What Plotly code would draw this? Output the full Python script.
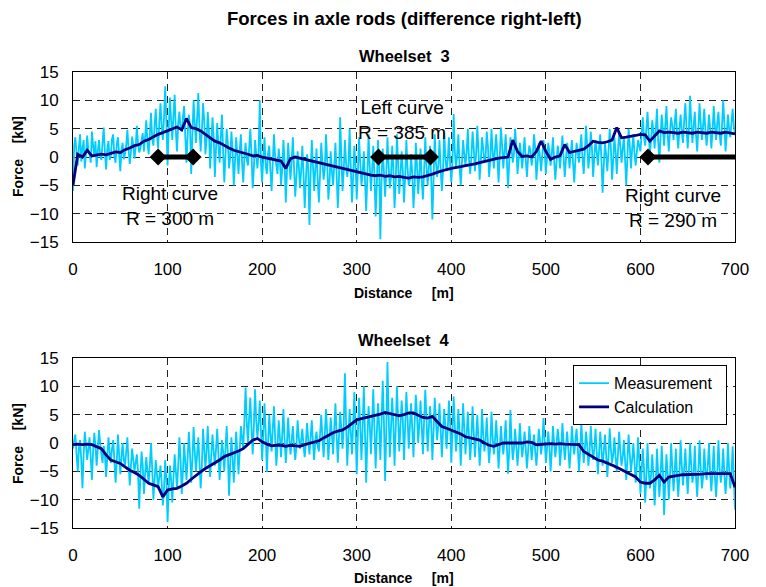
import numpy as np
import plotly.graph_objects as go

# ---------------- data ----------------
# measurement: samples every 1.25 m from 0 to 700 m; calculation: every 5 m
meas_ws3 = [
    -6.0, 2.0, 3.5, 0.5, -1.5, 1.8, 4.0, -0.8, 1.5, 3.0, -2.0, 0.6, 3.8, 1.2, 0.5, -1.0, 4.5, 2.0, 0.0, 2.8,
    -1.8, 1.0, 3.0, 0.2, -0.5, 2.5, 5.2, 0.8, -2.2, 1.5, 2.8, -0.5, 0.2, 3.2, 4.0, 0.0, -1.0, 2.2, 3.5, 0.6,
    -2.5, 1.2, 2.5, -0.4, 0.5, 2.0, 4.8, 1.5, -1.2, 0.8, 3.6, 2.0, -0.3, 1.6, 5.5, 2.5, 0.8, 1.5, 3.0, 4.2,
    1.0, 3.5, 6.5, 2.5, 0.5, 4.0, 7.8, 3.2, 2.0, 5.5, 8.5, 4.0, 1.5, 6.0, 9.5, 5.5, 3.0, 7.0, 12.5, 6.0,
    -1.5, 5.0, 10.5, 6.5, 3.0, 7.5, 11.0, 4.5, 1.0, 6.0, 8.0, 5.0, 4.5, 7.0, 9.0, 3.5, -1.0, 4.0, 7.5, 5.5,
    -3.0, 4.0, 10.0, 6.0, 2.5, 7.0, 11.3, 5.0, 1.0, 4.5, 9.5, 6.5, 0.5, 3.0, 8.0, 4.5, -2.0, 2.5, 7.0, 3.5,
    -3.5, 1.5, 6.0, 2.0, -1.0, 3.5, 7.5, 1.0, -4.5, 0.5, 5.0, 2.5, -2.0, 0.0, 4.5, 1.0, -5.0, -1.0, 3.5, 0.5,
    -3.0, 1.0, 4.0, -1.0, -4.5, 0.0, 2.5, -0.5, -1.5, 1.5, 5.0, 0.5, -5.5, -2.0, 3.0, 0.5, -2.0, 1.0, 10.0, -1.0,
    -4.5, 0.0, 3.5, -1.5, -3.0, 0.5, 2.0, -2.5, -6.0, -1.0, 4.0, 0.0, -1.5, -3.0, 1.5, -0.5, -5.0, -2.0, 3.0, -1.0,
    -8.0, -2.5, 2.5, -1.0, -4.0, -0.5, 3.5, -2.0, -7.0, -3.5, 1.0, -1.5, -5.5, -2.5, 2.0, -3.0, -9.0, -4.0, 0.5, -2.0,
    -12.0, -3.0, 3.0, -1.5, -6.0, -2.0, 1.5, -4.0, -8.0, -3.0, 2.5, -1.0, -4.0, -2.0, 4.0, -0.5, -7.5, -4.5, 1.0, -2.5,
    -5.0, -1.5, 2.5, -3.0, -9.0, -4.0, 7.0, 0.0, -6.0, -2.5, 3.0, -1.0, -3.5, -1.5, 5.0, -2.0, -8.0, -3.5, 2.0, -1.5,
    -7.5, -2.5, 3.5, -1.0, -5.0, -3.0, 1.0, -4.0, -9.5, -3.5, 4.0, -1.5, -6.0, -2.5, 2.0, -3.5, -10.5, -5.0, 3.0, -2.0,
    -14.5, -4.0, 1.5, -2.5, -7.0, -3.0, 3.5, -1.5, -5.5, -3.5, 2.0, -2.0, -9.0, -4.5, 4.0, -1.0, -6.5, -3.0, 1.0, -2.5,
    -8.0, -3.5, 3.0, -2.0, -5.0, -4.0, 0.5, -3.0, -9.0, -5.0, 2.5, -1.5, -6.5, -3.0, 1.5, -4.0, -7.5, -2.5, 3.5, -1.5,
    -5.0, -2.0, 2.0, -3.5, -11.0, -4.0, 4.0, -1.0, -3.5, -1.5, 3.0, -2.0, -6.0, -2.5, 4.5, 0.0, -2.5, -0.5, 3.5, -1.0,
    -4.5, -1.0, 7.6, 1.0, -2.0, 0.5, 4.0, -1.5, -5.0, -1.0, 3.0, 0.5, -1.5, 1.0, 5.0, -0.5, -3.0, 0.0, 4.5, 1.5,
    -2.5, 0.5, 5.5, 1.0, -4.0, -0.5, 3.5, 1.5, -1.0, 0.0, 4.5, 2.0, -3.5, -0.5, 5.0, 1.0, -2.0, 1.5, 4.0, 0.0,
    -4.5, 0.0, 5.2, 2.0, -2.0, 1.0, 4.0, -0.5, -5.5, -1.0, 3.5, 1.5, -1.0, 0.5, 5.0, 2.0, -3.0, -0.5, 2.5, 0.5,
    -2.0, 1.0, 3.5, -0.5, -3.5, 0.0, 2.0, 1.0, -1.5, 0.5, 4.0, 1.5, -4.0, -1.0, 2.5, 0.0, -2.5, 0.5, 3.0, 1.0,
    -3.0, 0.0, 2.5, 1.0, -1.5, 0.5, 3.5, -0.5, -4.0, -1.0, 2.0, 0.5, -2.0, 1.0, 3.8, 0.0, -3.5, -0.5, 2.5, 1.0,
    -2.0, 0.5, 3.0, -1.0, -4.5, -0.5, 2.5, 1.0, -1.0, 1.5, 4.0, 0.0, -3.0, 1.0, 5.5, 2.0, -2.0, 0.5, 4.5, 1.5,
    -3.5, 0.0, 3.0, 1.0, -1.5, 1.5, 4.0, -0.5, -6.3, -1.5, 2.5, 0.5, -2.5, 1.0, 5.0, 1.5, -4.0, -0.5, 3.5, 1.0,
    -3.0, 1.0, 4.5, 2.0, -1.0, 1.5, 3.5, -0.5, -5.0, 0.0, 5.0, 2.0, -2.0, 1.5, 4.0, 0.5, -1.5, 1.0, 3.0, 2.0,
    1.0, 4.0, 7.0, 3.5, 2.0, 5.0, 8.0, 4.0, 0.5, 3.0, 6.5, 4.5, 1.5, 5.0, 8.5, 3.0, -1.0, 3.5, 7.5, 5.0,
    2.0, 5.5, 9.0, 4.0, 1.0, 4.5, 7.0, 5.5, 3.0, 6.0, 8.5, 4.0, 1.5, 5.0, 7.5, 4.5, 2.5, 6.5, 9.5, 5.0,
    1.5, 5.0, 10.8, 6.0, 2.5, 5.5, 8.0, 4.0, 1.0, 5.0, 9.5, 6.0, 3.0, 5.5, 8.5, 4.5, 2.0, 4.5, 7.5, 5.0,
    1.5, 4.5, 9.0, 5.5, 3.0, 6.0, 8.0, 4.0, 2.0, 5.5, 10.0, 6.0, 1.0, 4.0, 7.5, 5.0, 3.5, 6.0, 8.5, 5.5,
    4.0,
]

calc_ws3 = [
    -5.0, 0.5, 0.0, 1.2, 0.2, 0.3, 0.5, 0.4, 0.7, 0.9,
    0.8, 1.3, 1.6, 2.0, 2.2, 2.8, 3.1, 3.6, 4.0, 4.3,
    4.6, 5.0, 5.3, 4.8, 6.8, 5.2, 5.0, 4.6, 4.0, 3.4,
    2.8, 2.5, 2.0, 1.6, 1.2, 1.0, 0.8, 0.5, 0.2, 0.3,
    0.0, -0.2, -0.4, -0.6, -0.7, -2.0, -0.3, 0.0, -0.2, -0.5,
    -0.6, -0.8, -1.1, -1.3, -1.5, -1.7, -1.9, -2.1, -2.3, -2.5,
    -2.7, -2.9, -3.1, -3.2, -3.3, -3.2, -3.4, -3.3, -3.5, -3.4,
    -3.6, -3.7, -3.5, -3.6, -3.5, -3.3, -3.0, -2.7, -2.4, -2.2,
    -2.0, -1.9, -1.7, -1.5, -1.4, -1.2, -1.0, -0.8, -0.5, -0.3,
    -0.2, -0.1, 0.0, 3.0, 1.0, 0.1, 0.2, 0.0, 1.0, 2.8,
    1.0, -0.4, 0.0, 0.2, 2.2, 0.8, 1.0, 1.2, 1.4, 2.0,
    2.8, 2.6, 2.5, 2.7, 3.0, 5.2, 3.4, 3.5, 3.6, 3.8,
    4.0, 3.9, 2.8, 3.7, 4.6, 4.3, 4.4, 4.3, 4.2, 4.4,
    4.3, 4.2, 4.4, 4.3, 4.2, 4.4, 4.3, 4.2, 4.4, 4.3,
    4.1,
]

meas_ws4 = [
    -1.0, 0.5, 1.5, -2.0, -5.0, -1.0, 0.5, -3.0, -8.0, -2.0, 2.0, -0.5, -3.0, -1.0, 1.0, -2.5, -6.5, -1.5, 1.8, -0.5,
    -4.0, -1.0, 2.3, 0.0, -2.0, -3.5, -0.5, -2.0, -6.0, -2.5, 1.0, -1.5, -3.5, -1.0, 0.5, -3.0, -7.0, -3.5, 1.5, -2.0,
    -5.5, -2.5, 0.0, -3.0, -4.0, -1.5, 1.0, -3.5, -7.5, -4.0, -1.0, -3.0, -5.0, -3.5, -2.0, -5.0, -11.6, -6.0, -1.5, -4.0,
    -9.0, -5.5, -2.5, -5.0, -7.0, -4.0, 0.0, -4.5, -10.0, -6.5, -3.0, -5.5, -8.0, -6.0, -4.0, -7.0, -11.0, -8.0, -3.0, -6.5,
    -14.0, -8.0, -4.0, -6.5, -10.5, -6.0, -2.0, -5.0, -8.0, -4.0, 1.0, -3.0, -9.0, -5.0, 0.0, -3.5, -6.5, -2.5, 2.0, -2.0,
    -7.0, -3.0, 2.8, -1.5, -5.0, -2.0, 1.0, -3.5, -8.0, -4.0, 2.5, -1.0, -4.5, -1.5, 3.0, -2.5, -6.0, -2.0, 1.5, -1.5,
    -4.0, -1.0, 2.5, -2.0, -6.5, -3.0, 0.5, -1.5, -5.0, -1.0, 3.0, -2.0, -9.3, -3.5, 1.0, -2.5, -7.0, -2.5, 2.0, -1.5,
    -5.5, -1.5, 3.0, 1.0, -1.0, 4.0, 9.8, 3.5, 0.0, 4.5, 8.0, 2.5, -2.0, 3.0, 9.5, 4.0, 1.0, 3.5, 7.5, 2.0,
    -3.0, 1.5, 7.0, 2.0, -5.1, 0.0, 5.0, 1.5, -1.5, 2.5, 6.5, 1.0, -4.0, -0.5, 4.0, 1.0, -2.5, 1.5, 6.0, 0.5,
    -3.5, 0.0, 4.5, 0.5, -2.0, 0.5, 3.0, -0.5, -3.0, -0.5, 4.0, 1.0, -1.0, 0.5, 2.5, -0.5, -2.5, 0.0, 3.5, 0.5,
    -2.0, 1.0, 4.0, 0.0, -3.0, 0.5, 2.0, -0.5, -1.5, 1.5, 5.0, 1.0, -2.5, 1.5, 6.0, 2.0, -3.0, 0.5, 4.5, 1.5,
    -2.0, 2.5, 7.0, 1.5, -3.5, 1.0, 5.5, 2.5, -1.0, 3.0, 12.3, 3.5, -4.0, 1.0, 6.0, 2.0, -2.0, 3.5, 9.0, 2.5,
    -5.5, 1.5, 8.0, 3.0, -3.0, 2.5, 10.0, 2.0, -7.0, 0.5, 6.5, 3.5, -2.0, 3.0, 9.5, 2.5, -4.5, 1.5, 7.0, 3.0,
    -3.0, 3.5, 11.0, 4.0, -6.7, 2.0, 14.3, 5.0, -2.5, 2.5, 8.0, 3.5, -4.0, 2.5, 10.0, 4.5, -1.5, 3.0, 7.5, 4.0,
    -3.0, 3.0, 9.0, 4.5, -1.0, 3.0, 7.0, 2.5, -2.5, 3.5, 8.5, 5.0, 0.0, 3.5, 7.5, 3.0, -2.0, 4.0, 9.4, 4.5,
    -1.5, 2.5, 6.5, 3.5, -3.0, 2.0, 8.0, 4.0, 0.5, 3.0, 7.0, 2.5, -2.5, 2.0, 6.0, 3.0, -1.0, 2.5, 7.5, 3.5,
    -3.5, 2.0, 8.2, 3.0, -1.5, 1.5, 6.0, 2.0, -4.0, 1.0, 7.0, 2.5, -2.0, 1.5, 5.5, 1.0, -3.0, 0.5, 6.5, 2.0,
    -2.5, 1.0, 5.0, 0.5, -4.0, -0.5, 6.0, 1.5, -1.5, 0.5, 4.5, 0.0, -3.5, -0.5, 5.5, 1.0, -2.0, 0.5, 4.0, 0.0,
    -4.5, -1.0, 3.0, 0.0, -2.0, 0.5, 4.0, -0.5, -5.4, -1.5, 5.8, 0.5, -3.0, -1.0, 2.5, -0.5, -4.0, -1.0, 3.5, 0.0,
    -2.5, -0.5, 2.0, -1.0, -4.5, -1.5, 3.0, 0.0, -3.0, -0.5, 1.5, -1.5, -4.0, -1.0, 2.5, 0.5, -2.0, 0.0, 4.4, 0.5,
    -3.5, -1.0, 2.0, -0.5, -5.0, -1.5, 3.0, 0.0, -2.5, -0.5, 2.5, 0.5, -4.0, -1.0, 3.5, 0.0, -3.0, -0.5, 2.0, -1.0,
    -4.5, -1.5, 3.0, 0.0, -2.0, 0.5, 2.5, -1.0, -5.0, -1.5, 3.5, 0.0, -3.5, -1.0, 2.0, -0.5, -4.0, -1.5, 3.0, -0.5,
    -3.0, -1.0, 2.5, -1.5, -5.5, -2.0, 2.0, -1.0, -4.0, -1.5, 1.5, -2.0, -6.0, -2.5, 2.6, -1.0, -3.5, -2.0, 1.0, -2.5,
    -5.0, -2.0, 2.0, -1.5, -4.0, -2.5, 0.5, -3.0, -6.5, -3.0, 1.5, -2.0, -5.0, -3.0, 0.0, -3.5, -7.0, -4.0, 1.0, -3.0,
    -9.0, -5.0, -1.0, -4.5, -10.5, -6.0, 0.0, -5.0, -8.0, -5.5, -2.0, -6.0, -11.0, -7.0, -1.0, -5.5, -9.5, -6.0, -0.5, -5.0,
    -12.7, -7.0, -2.0, -5.5, -10.0, -6.0, 0.0, -4.5, -8.5, -5.0, -1.0, -6.0, -9.5, -5.5, 0.5, -4.0, -7.5, -4.5, -1.0, -5.5,
    -9.0, -5.0, 0.0, -4.0, -7.0, -5.5, -0.5, -6.0, -9.5, -5.0, 0.5, -4.5, -8.0, -6.0, -1.0, -5.0, -6.5, -4.0, 0.0, -5.5,
    -8.5, -5.0, -0.5, -6.0, -9.5, -5.5, 0.5, -4.5, -7.0, -5.0, -1.0, -5.5, -9.0, -6.0, 0.0, -4.5, -8.0, -5.5, -0.6, -6.0,
    -11.8,
]

calc_ws4 = [
    -0.3, -0.2, -0.3, -0.2, -0.3, -0.6, -1.0, -2.1, -3.0, -3.3,
    -3.6, -4.2, -4.8, -5.2, -5.7, -6.4, -7.1, -7.4, -7.7, -9.5,
    -8.3, -8.1, -8.0, -7.6, -7.1, -6.4, -5.7, -5.1, -4.5, -4.0,
    -3.6, -3.0, -2.4, -2.1, -1.8, -1.4, -1.0, -0.2, 0.5, 0.8,
    0.2, -0.2, -0.5, -0.4, -0.4, -0.6, -0.4, -0.5, -0.6, -0.3,
    -0.1, 0.2, 0.4, 0.9, 1.4, 1.8, 2.1, 2.3, 2.8, 3.4,
    4.1, 4.3, 4.5, 4.6, 4.8, 5.1, 5.4, 5.2, 5.0, 4.8,
    5.0, 5.3, 5.3, 4.9, 4.5, 4.4, 4.7, 3.8, 2.9, 2.6,
    2.3, 2.0, 1.6, 1.1, 0.9, 0.7, 0.5, 0.0, -0.4, -0.6,
    -0.3, 0.0, 0.0, 0.0, -0.1, 0.0, 0.2, 0.1, -0.3, -0.2,
    -0.2, -0.1, -0.2, -0.1, -0.2, -0.2, -0.3, -0.3, -1.5, -2.0,
    -2.6, -3.0, -3.2, -3.5, -3.9, -4.3, -4.7, -5.1, -5.6, -6.0,
    -6.9, -7.1, -7.1, -6.5, -5.7, -6.9, -6.0, -5.8, -5.7, -5.6,
    -5.6, -5.5, -5.5, -5.5, -5.4, -5.4, -5.4, -5.3, -5.3, -5.4,
    -7.8,
]

track_length = 700.0

# curve sections of the track (wheelset 3 panel), in metres
curve_names = ["Right curve<br>R = 300 m", "Left curve<br>R = 385 m", "Right curve<br>R = 290 m"]
curve_start = [90, 323, 608]
curve_end = [127, 378, 700]
curve_label_x = [103, 348, 634]
curve_label_y = [-8.6, 6.6, -9.0]
curve_end_marker = [True, True, False]

x_ticks = [0, 100, 200, 300, 400, 500, 600, 700]
y_ticks = [-15, -10, -5, 0, 5, 10, 15]

# ---------------- figure ----------------
x_meas3 = np.linspace(0, track_length, len(meas_ws3))
x_meas4 = np.linspace(0, track_length, len(meas_ws4))
x_calc3 = np.linspace(0, track_length, len(calc_ws3))
x_calc4 = np.linspace(0, track_length, len(calc_ws4))

C_MEAS = "#00CCFF"
C_CALC = "#000080"
FONT = "Liberation Sans, Arial, Helvetica, sans-serif"

fig = go.Figure()

# wheelset 3
fig.add_trace(go.Scatter(x=x_meas3, y=meas_ws3, mode="lines",
                         line=dict(color=C_MEAS, width=1.8, simplify=False),
                         showlegend=False, xaxis="x", yaxis="y"))
fig.add_trace(go.Scatter(x=x_calc3, y=calc_ws3, mode="lines", line=dict(color=C_CALC, width=2.8),
                         showlegend=False, xaxis="x", yaxis="y"))
for s, e, em in zip(curve_start, curve_end, curve_end_marker):
    fig.add_trace(go.Scatter(
        x=[s, e], y=[0, 0], mode="lines+markers",
        line=dict(color="black", width=5),
        marker=dict(symbol="diamond", size=[13, 13 if em else 0], color="black",
                    opacity=1, line=dict(width=0, color="black")),
        showlegend=False, xaxis="x", yaxis="y"))

# wheelset 4
fig.add_trace(go.Scatter(x=x_meas4, y=meas_ws4, mode="lines",
                         line=dict(color=C_MEAS, width=1.8, simplify=False),
                         name="Measurement" + "\u00a0" * 2, legendgroup="m", xaxis="x2", yaxis="y2"))
fig.add_trace(go.Scatter(x=x_calc4, y=calc_ws4, mode="lines", line=dict(color=C_CALC, width=2.8),
                         name="Calculation", legendgroup="c", xaxis="x2", yaxis="y2"))

axis_common = dict(
    showline=True, mirror=True, linecolor="black", linewidth=1,
    showgrid=True, gridcolor="#222222", gridwidth=1, griddash="7px,5px",
    zeroline=False, ticks="", tickfont=dict(family=FONT, size=17, color="black"),
)
fig.update_layout(
    width=766, height=587,
    margin=dict(l=73, r=31, t=72, b=59),
    paper_bgcolor="white", plot_bgcolor="white",
    font=dict(family=FONT, color="black"),
    xaxis=dict(domain=[0, 1], range=[0, 700], tickvals=x_ticks, anchor="y",
               ticklabelstandoff=12, **axis_common),
    yaxis=dict(domain=[0.627, 1], range=[-15, 15], tickvals=y_ticks, anchor="x",
               ticklabelstandoff=10, **axis_common),
    xaxis2=dict(domain=[0, 1], range=[0, 700], tickvals=x_ticks, anchor="y2",
                ticklabelstandoff=12, **axis_common),
    yaxis2=dict(domain=[0, 0.3728], range=[-15, 15], tickvals=y_ticks, anchor="x2",
                ticklabelstandoff=10, **axis_common),
    legend=dict(x=0.988, y=0.357, xanchor="right", yanchor="top",
                bgcolor="white", bordercolor="black", borderwidth=1,
                font=dict(family=FONT, size=16, color="black"),
                traceorder="grouped", tracegroupgap=0),
)

ann = []
sp = "\u00a0"
ann.append(dict(text="<b>Forces in axle rods (difference right-left)</b>", xref="paper", yref="paper",
                x=0.5, y=1.118, showarrow=False, font=dict(size=18.5), xanchor="center", yanchor="middle"))
ann.append(dict(text="<b>Wheelset" + sp * 2 + "3</b>", xref="paper", yref="paper",
                x=0.5, y=1.035, showarrow=False, font=dict(size=16.5), xanchor="center", yanchor="middle"))
ann.append(dict(text="<b>Wheelset" + sp * 2 + "4</b>", xref="paper", yref="paper",
                x=0.5, y=0.4123, showarrow=False, font=dict(size=16.5), xanchor="center", yanchor="middle"))
for yy in [0.5154, -0.1096]:
    ann.append(dict(text="<b>Distance" + sp * 5 + "[m]</b>", xref="paper", yref="paper",
                    x=0.5, y=yy, showarrow=False, font=dict(size=14), xanchor="center", yanchor="middle"))
for yy in [0.8158, 0.1864]:
    ann.append(dict(text="<b>Force" + sp * 4 + "[kN]</b>", xref="paper", yref="paper",
                    x=-0.0831, y=yy, showarrow=False, font=dict(size=14), textangle=-90,
                    xanchor="center", yanchor="middle"))
for name, lx, ly in zip(curve_names, curve_label_x, curve_label_y):
    ann.append(dict(text=name, xref="x", yref="y", x=lx, y=ly, showarrow=False,
                    font=dict(size=19), xanchor="center", yanchor="middle"))
fig.update_layout(annotations=ann)

fig.write_html("out.html")
